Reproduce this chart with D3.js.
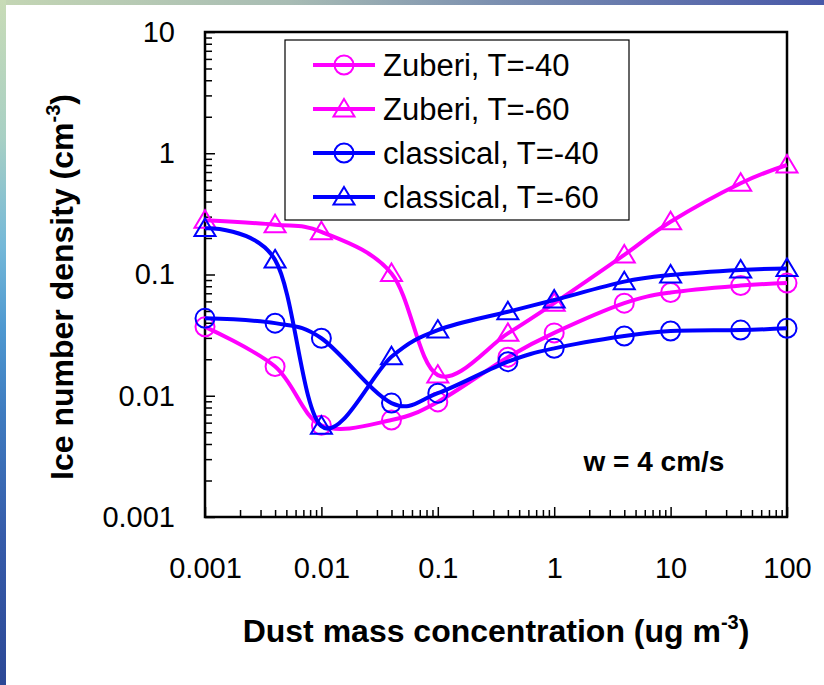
<!DOCTYPE html>
<html>
<head>
<meta charset="utf-8">
<script src="https://cdn.jsdelivr.net/npm/d3@7"></script>
<style>
  html, body { margin: 0; padding: 0; background: #fff; }
  svg { display: block; font-family: "Liberation Sans", Arial, sans-serif; }
</style>
</head>
<body>
<div id="chart"></div>
<script>
// x values: dust mass concentration (ug m-3)
const dust = [0.001, 0.004, 0.01, 0.04, 0.1, 0.4, 1, 4, 10, 40, 100];

// ice number density (cm-3)
const zuberi40 = [0.037, 0.0174, 0.0057, 0.0063, 0.0089, 0.0208, 0.033, 0.058, 0.071, 0.081, 0.085];
const zuberi60 = [0.28, 0.257, 0.225, 0.102, 0.0148, 0.0327, 0.058, 0.145, 0.272, 0.565, 0.8];
const classical40 = [0.0435, 0.0397, 0.0298, 0.0087, 0.0105, 0.0191, 0.0246, 0.0311, 0.0342, 0.0348, 0.036];
const classical60 = [0.24, 0.132, 0.0056, 0.021, 0.0348, 0.0493, 0.0616, 0.0873, 0.099, 0.109, 0.112];

const seriesNames = ['Zuberi, T=-40', 'Zuberi, T=-60', 'classical, T=-40', 'classical, T=-60'];
const seriesValues = [zuberi40, zuberi60, classical40, classical60];
const seriesColors = ['#ff00ff', '#ff00ff', '#0000ff', '#0000ff'];
const seriesMarkers = ['circle', 'triangle', 'circle', 'triangle'];

const xDomain = [0.001, 100];
const yDomain = [0.001, 10];
const xTickLabels = ['0.001', '0.01', '0.1', '1', '10', '100'];
const yTickLabels = ['0.001', '0.01', '0.1', '1', '10'];

const W = 824, H = 685;
const plot = { left: 205, top: 32, right: 787, bottom: 517 };

const svg = d3.select('#chart').append('svg')
  .attr('width', W)
  .attr('height', H);

// slide background strips (left + top)
const defs = svg.append('defs');
const gLeft = defs.append('linearGradient').attr('id', 'leftStrip')
  .attr('x1', 0).attr('y1', 0).attr('x2', 0).attr('y2', 1);
[[0, '#c8dbb6'], [0.2, '#a8d0c4'], [0.36, '#74b8d8'], [0.48, '#4e98d0'],
 [0.6, '#3f7cc0'], [0.78, '#365caa'], [1, '#2c4896']].forEach(([o, c]) =>
  gLeft.append('stop').attr('offset', o).attr('stop-color', c));
const gTop = defs.append('linearGradient').attr('id', 'topStrip')
  .attr('x1', 0).attr('y1', 0).attr('x2', 1).attr('y2', 0);
[[0, '#c4d6b4'], [0.35, '#a8bcb4'], [0.6, '#7c90b0'], [1, '#4858a8']].forEach(([o, c]) =>
  gTop.append('stop').attr('offset', o).attr('stop-color', c));

svg.append('rect').attr('x', 0).attr('y', 0).attr('width', W).attr('height', H).attr('fill', '#fff');
svg.append('rect').attr('x', 0).attr('y', 0).attr('width', W).attr('height', 5).attr('fill', 'url(#topStrip)');
svg.append('rect').attr('x', 0).attr('y', 0).attr('width', 6).attr('height', H).attr('fill', 'url(#leftStrip)');

const x = d3.scaleLog().domain(xDomain).range([plot.left, plot.right]);
const y = d3.scaleLog().domain(yDomain).range([plot.bottom, plot.top]);

const isMajor = v => Math.abs(Math.log10(v) - Math.round(Math.log10(v))) < 1e-9;

// minor ticks
svg.append('g')
  .attr('transform', `translate(0,${plot.bottom})`)
  .call(d3.axisBottom(x).tickValues(x.ticks().filter(v => !isMajor(v))).tickSize(-7).tickFormat(''))
  .call(g => g.select('.domain').remove())
  .call(g => g.selectAll('line').attr('stroke', '#000').attr('stroke-width', 1.5));
svg.append('g')
  .attr('transform', `translate(${plot.left},0)`)
  .call(d3.axisLeft(y).tickValues(y.ticks().filter(v => !isMajor(v))).tickSize(-7).tickFormat(''))
  .call(g => g.select('.domain').remove())
  .call(g => g.selectAll('line').attr('stroke', '#000').attr('stroke-width', 1.5));

// major ticks + labels
svg.append('g')
  .attr('transform', `translate(0,${plot.bottom})`)
  .call(d3.axisBottom(x).tickValues(xTickLabels.map(Number)).tickSize(-10).tickPadding(40)
    .tickFormat((d, i) => xTickLabels[i]))
  .call(g => g.select('.domain').remove())
  .call(g => g.selectAll('line').attr('stroke', '#000').attr('stroke-width', 1.5))
  .call(g => g.selectAll('text').attr('font-size', 29).attr('fill', '#000')
    .attr('font-family', '"Liberation Sans", Arial, sans-serif'));
svg.append('g')
  .attr('transform', `translate(${plot.left},0)`)
  .call(d3.axisLeft(y).tickValues(yTickLabels.map(Number)).tickSize(-10).tickPadding(30)
    .tickFormat((d, i) => yTickLabels[i]))
  .call(g => g.select('.domain').remove())
  .call(g => g.selectAll('line').attr('stroke', '#000').attr('stroke-width', 1.5))
  .call(g => g.selectAll('text').attr('font-size', 29).attr('fill', '#000')
    .attr('font-family', '"Liberation Sans", Arial, sans-serif'));

// plot frame
svg.append('rect')
  .attr('x', plot.left).attr('y', plot.top)
  .attr('width', plot.right - plot.left).attr('height', plot.bottom - plot.top)
  .attr('fill', 'none').attr('stroke', '#000').attr('stroke-width', 2.5);

const triangle = 'M0,-10L10.5,7.5L-10.5,7.5Z';

function drawMarker(g, type, color) {
  if (type === 'circle') {
    g.append('circle').attr('r', 9.5)
      .attr('fill', 'none').attr('stroke', color).attr('stroke-width', 2);
  } else {
    g.append('path').attr('d', triangle)
      .attr('fill', 'none').attr('stroke', color).attr('stroke-width', 2);
  }
}

const line = d3.line()
  .x(d => x(d[0]))
  .y(d => y(d[1]))
  .curve(d3.curveCardinal.tension(0));

const series = svg.append('g').attr('class', 'series');
seriesValues.forEach((vals, s) => {
  const pts = dust.map((d, i) => [d, vals[i]]);
  series.append('path')
    .attr('d', line(pts))
    .attr('fill', 'none')
    .attr('stroke', seriesColors[s])
    .attr('stroke-width', 4)
    .attr('stroke-linejoin', 'round');
  pts.forEach(p => {
    const m = series.append('g').attr('transform', `translate(${x(p[0])},${y(p[1])})`);
    drawMarker(m, seriesMarkers[s], seriesColors[s]);
  });
});

// legend
const legend = svg.append('g');
legend.append('rect')
  .attr('x', 285).attr('y', 40).attr('width', 344).attr('height', 180)
  .attr('fill', '#fff').attr('stroke', '#000').attr('stroke-width', 1.2);
seriesNames.forEach((name, i) => {
  const ly = 65 + i * 44;
  legend.append('line')
    .attr('x1', 313).attr('x2', 375).attr('y1', ly).attr('y2', ly)
    .attr('stroke', seriesColors[i]).attr('stroke-width', 4);
  drawMarker(legend.append('g').attr('transform', `translate(344,${ly})`), seriesMarkers[i], seriesColors[i]);
  legend.append('text')
    .attr('x', 383).attr('y', ly).attr('dy', '0.36em')
    .attr('font-size', 31).attr('fill', '#000')
    .text(name);
});

// annotation
svg.append('text')
  .attr('x', 654).attr('y', 461).attr('dy', '0.36em')
  .attr('text-anchor', 'middle')
  .attr('font-size', 28).attr('font-weight', 'bold')
  .text('w = 4 cm/s');

// axis titles
const xTitle = svg.append('text')
  .attr('x', (plot.left + plot.right) / 2).attr('y', 642)
  .attr('text-anchor', 'middle')
  .attr('font-size', 32).attr('font-weight', 'bold');
xTitle.append('tspan').text('Dust mass concentration (ug m');
xTitle.append('tspan').attr('font-size', 20).attr('dy', -13).text('-3');
xTitle.append('tspan').attr('dy', 13).text(')');

const yTitle = svg.append('text')
  .attr('transform', 'translate(73,287) rotate(-90)')
  .attr('text-anchor', 'middle')
  .attr('font-size', 32).attr('font-weight', 'bold');
yTitle.append('tspan').text('Ice number density (cm');
yTitle.append('tspan').attr('font-size', 20).attr('dy', -13).text('-3');
yTitle.append('tspan').attr('dy', 13).text(')');
</script>
</body>
</html>
